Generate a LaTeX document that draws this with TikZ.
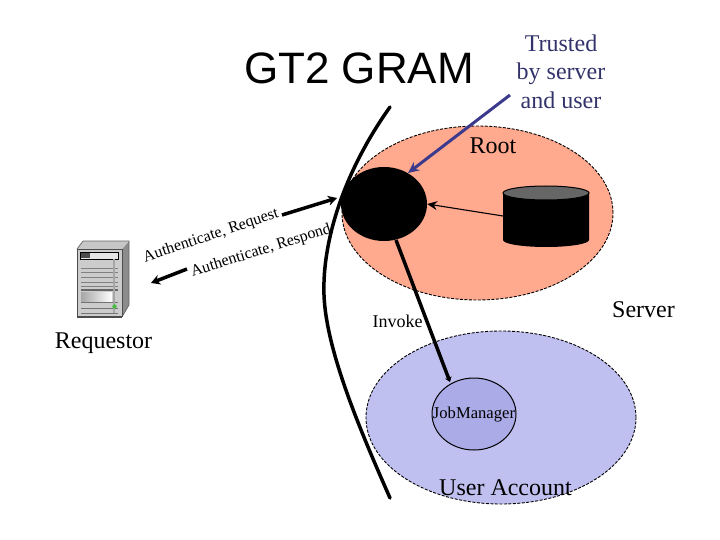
\documentclass[tikz,border=0pt]{standalone}
\usepackage{fontspec}
\setmainfont{Liberation Serif}
\newfontfamily\headfont{Liberation Sans}
\usetikzlibrary{arrows.meta,shapes.geometric}
\definecolor{rootfill}{HTML}{FFA98F}
\definecolor{userfill}{HTML}{C0C0F0}
\definecolor{jobfill}{HTML}{ABABE8}
\definecolor{trustblue}{HTML}{3B3A8C}
\definecolor{trusttext}{HTML}{33336B}
\tikzset{
  zone/.style={ellipse,draw=black,line width=0.9pt,dash pattern=on 3pt off 1.5pt,inner sep=0pt,outer sep=0pt},
  lbl/.style={inner sep=0pt,font=\fontsize{24}{28}\selectfont},
  small/.style={inner sep=0pt,font=\fontsize{16}{19}\selectfont},
  heavy/.style={line width=3.5pt,-{Stealth[length=9pt,width=10pt]}},
  barrier/.style={line width=3.5pt,line cap=round}
}
\begin{document}
\begin{tikzpicture}[x=1pt,y=-1pt]
\useasboundingbox (0,0) rectangle (720,540);
% zones
\node[zone,fill=rootfill,minimum width=271pt,minimum height=174pt] (root) at (477.5,213) {};
\node[zone,fill=userfill,minimum width=270pt,minimum height=173pt] (user) at (501,417.5) {};
% daemon
\node[ellipse,fill=black,inner sep=0pt,minimum width=86pt,minimum height=74pt] (daemon) at (384,204) {};
\node[ellipse,draw=black,line width=1pt,fill=jobfill,inner sep=0pt,minimum width=84pt,minimum height=72pt] (job) at (474,414) {};
% store
\fill[black] (503,193) -- (503,240) arc[start angle=180,end angle=360,x radius=43,y radius=-7] -- (589,193) -- cycle;
\draw[black,line width=1pt,fill=black!60] (546,193) ellipse[x radius=43,y radius=7];
\coordinate (storeport) at (503,216);
% barrier
\draw[barrier] (390,107) .. controls (345,170) and (322,240) .. (324,295) .. controls (326,350) and (360,430) .. (390,498);
% connectors
\coordinate (trustfoot) at (510,95);
\coordinate (daemontop) at (408,173);
\draw[trustblue,line width=3pt,-{Stealth[length=11pt,width=10pt]}] (trustfoot) -- (daemontop);
\draw[line width=1.1pt,-{Stealth[length=10pt,width=9pt]}] (storeport) -- (daemon.east);
\coordinate (invfrom) at (396,240);
\coordinate (invto) at (450,382);
\draw[line width=3.5pt,-{Stealth[length=5pt,width=7pt]}] (invfrom) -- (invto);
\coordinate (reqa) at (282,215);
\coordinate (reqb) at (337,198);
\coordinate (resa) at (187,269);
\coordinate (resb) at (151,283);
\draw[heavy] (reqa) -- (reqb);
\draw[heavy] (resa) -- (resb);
% server icon
\fill[black!45] (122,249) -- (129,241) -- (129,305) -- (122,317) -- cycle;
\fill[black!22] (77,249) -- (83,241) -- (129,241) -- (122,249) -- cycle;
\draw[black!60,line width=0.7pt] (77,249) -- (83,241) -- (129,241) -- (129,305) -- (122,317);
\draw[black!70,fill=black!20,line width=0.8pt] (77,249) rectangle (122,316);
\fill[black!70] (77,316) rectangle (122,318);
\draw[black,fill=white!90!black,line width=0.7pt] (80,252) rectangle (118,259);
\fill[black!70] (81,253) rectangle (90,258);
\foreach \yy in {268,272,277,282,286}{\draw[black!50,line width=0.7pt] (81,\yy) -- (118,\yy);}
\fill[black!60] (81,289) rectangle (118,291);
\shade[left color=black!35,right color=white] (81,292) rectangle (112,302);
\foreach \yy in {302,308,313}{\draw[black!55,line width=0.7pt] (81,\yy) -- (118,\yy);}
\draw[black!35,line width=2pt] (114,259) -- (114,313);
\fill[green!50!gray] (114.5,306.5) circle (2.2);
% texts
\node[inner sep=0pt,font=\headfont\fontsize{44}{50}\selectfont] (title) at (359,68) {GT2 GRAM};
\node[lbl,text=trusttext,align=center,font=\fontsize{24}{28.5}\selectfont] (trust) at (561,71.5) {Trusted\\by server\\and user};
\node[lbl] (rootlbl) at (493,145.5) {Root};
\node[lbl] (serverlbl) at (643.5,310) {Server};
\node[lbl] (requestor) at (103.5,343.5) {Requestor};
\node[inner sep=0pt,font=\fontsize{18}{21}\selectfont] (invoke) at (397.5,321.5) {Invoke};
\node[inner sep=0pt,font=\fontsize{16.6}{19}\selectfont] (joblbl) at (474,414.5) {JobManager};
\node[lbl] (useracct) at (505.5,487.5) {User Account};
\node[small,rotate=18.5] (req) at (211,236) {Authenticate, Request};
\node[small,rotate=17.5] (res) at (261,251) {Authenticate, Respond};
\end{tikzpicture}
\end{document}
